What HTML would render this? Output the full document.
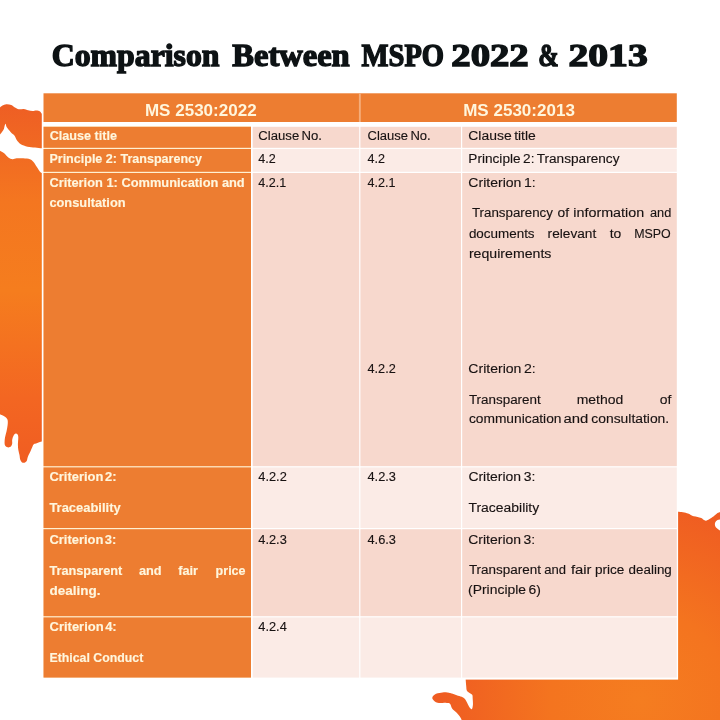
<!DOCTYPE html>
<html lang="en"><head><meta charset="utf-8"><title>Comparison Between MSPO 2022 &amp; 2013</title>
<style>
html,body{margin:0;padding:0;background:#fff;width:720px;height:720px;overflow:hidden}
svg{display:block}
.ti{font-family:"Liberation Serif",serif;font-weight:bold;font-size:32.2px;fill:#0D1214;stroke:#0D1214;stroke-width:1.4px}
.hd{font-family:"Liberation Sans",sans-serif;font-weight:bold;font-size:16.3px;fill:#FFF6DD}
.b{font-family:"Liberation Sans",sans-serif;font-weight:bold;font-size:12.3px;fill:#FFF6DD;stroke:#FFF6DD;stroke-width:0.15px}
.tight{word-spacing:-2px}
.n{font-family:"Liberation Sans",sans-serif;font-size:12.3px;fill:#181212;stroke:#181212;stroke-width:0.12px;word-spacing:-1.2px}
</style></head>
<body>
<svg width="720" height="720" viewBox="0 0 720 720">
<defs>
<linearGradient id="gl" gradientUnits="userSpaceOnUse" x1="0" y1="104" x2="0" y2="463">
<stop offset="0" stop-color="#EE5E24"/>
<stop offset="0.27" stop-color="#F47620"/>
<stop offset="0.52" stop-color="#F57D1E"/>
<stop offset="0.82" stop-color="#F36622"/>
<stop offset="1" stop-color="#F05D22"/>
</linearGradient>
<radialGradient id="gr" gradientUnits="userSpaceOnUse" cx="640" cy="700" r="200">
<stop offset="0" stop-color="#F57D20"/>
<stop offset="0.45" stop-color="#F4741F"/>
<stop offset="1" stop-color="#EF5C22"/>
</radialGradient>
</defs>
<rect width="720" height="720" fill="#fff"/>
<path d="M0,107.4 C0.42,107.08 1.46,106.03 2.50,105.50 C3.54,104.97 4.79,104.35 6.25,104.25 C7.71,104.15 9.79,104.38 11.25,104.90 C12.71,105.43 13.75,106.68 15.00,107.40 C16.25,108.12 17.29,109.00 18.75,109.25 C20.21,109.50 22.19,108.74 23.75,108.90 C25.31,109.06 26.64,109.83 28.10,110.20 C29.56,110.57 31.14,111.05 32.50,111.10 C33.86,111.15 35.00,110.45 36.25,110.50 C37.50,110.55 39.11,110.88 40.00,111.40 C40.89,111.92 41.33,113.23 41.60,113.60 L60,113.6 L60,148.3 L41.7,148.3 C40.58,148.17 37.37,147.77 35.00,147.50 C32.63,147.23 29.87,147.25 27.50,146.70 C25.13,146.15 22.37,145.02 20.80,144.20 C19.23,143.38 18.78,142.45 18.10,141.75 C17.42,141.05 17.32,141.04 16.70,140.00 C16.08,138.96 15.23,136.62 14.40,135.50 C13.57,134.38 12.53,134.13 11.70,133.30 C10.87,132.47 10.25,131.55 9.40,130.50 C8.55,129.45 7.23,128.12 6.60,127.00 C5.97,125.88 5.93,123.97 5.60,123.80 C5.27,123.63 4.91,125.09 4.60,126.00 C4.29,126.91 4.31,128.08 3.75,129.25 C3.19,130.42 1.88,132.12 1.25,133.00 C0.62,133.88 0.21,134.25 0.00,134.50 Z" fill="url(#gl)"/>
<path d="M0,150.8 C0.70,151.22 2.82,152.18 4.20,153.30 C5.58,154.42 6.92,156.52 8.30,157.50 C9.68,158.48 11.10,159.07 12.50,159.20 C13.90,159.33 14.90,158.45 16.70,158.30 C18.50,158.15 21.08,158.15 23.30,158.30 C25.52,158.45 28.33,158.63 30.00,159.20 C31.67,159.77 32.18,160.45 33.30,161.70 C34.42,162.95 35.58,165.03 36.70,166.70 C37.82,168.37 39.17,170.67 40.00,171.70 C40.83,172.73 41.42,172.70 41.70,172.90 L60,172.9 L60,441.5 L41.7,441.5 C41.42,441.60 40.97,441.75 40.00,442.10 C39.03,442.45 36.97,443.22 35.90,443.60 C34.83,443.98 34.23,443.77 33.60,444.40 C32.97,445.03 32.62,446.27 32.10,447.40 C31.58,448.53 31.08,449.93 30.50,451.20 C29.92,452.47 29.10,453.85 28.60,455.00 C28.10,456.15 27.82,457.08 27.50,458.10 C27.18,459.12 27.22,460.33 26.70,461.10 C26.18,461.87 25.22,462.50 24.40,462.70 C23.58,462.90 22.50,462.82 21.80,462.30 C21.10,461.78 20.58,460.82 20.20,459.60 C19.82,458.38 19.82,456.65 19.50,455.00 C19.18,453.35 18.57,451.47 18.30,449.70 C18.03,447.93 17.90,446.43 17.90,444.40 C17.90,442.37 18.35,439.17 18.30,437.50 C18.25,435.83 18.10,435.03 17.60,434.40 C17.10,433.77 16.00,433.43 15.30,433.70 C14.60,433.97 13.92,434.98 13.40,436.00 C12.88,437.02 12.40,438.53 12.20,439.80 C12.00,441.07 12.38,442.52 12.20,443.60 C12.02,444.68 11.73,445.67 11.10,446.30 C10.47,446.93 9.30,447.40 8.40,447.40 C7.50,447.40 6.33,446.93 5.70,446.30 C5.07,445.67 4.72,445.07 4.60,443.60 C4.48,442.13 4.68,439.53 5.00,437.50 C5.32,435.47 6.07,433.43 6.50,431.40 C6.93,429.37 7.42,427.22 7.60,425.30 C7.78,423.38 7.98,421.30 7.60,419.90 C7.22,418.50 6.18,417.67 5.30,416.90 C4.42,416.13 3.18,415.75 2.30,415.30 C1.42,414.85 0.38,414.38 0.00,414.20 Z" fill="url(#gl)"/>
<path d="M465.7,676 L676,676 L676,511.8 L678,511.8 C678.83,511.88 681.33,512.02 683.00,512.30 C684.67,512.58 686.83,513.15 688.00,513.50 C689.17,513.85 689.04,513.94 690.00,514.40 C690.96,514.86 692.50,515.83 693.75,516.25 C695.00,516.67 696.25,516.59 697.50,516.90 C698.75,517.21 700.00,517.48 701.25,518.10 C702.50,518.72 703.75,520.38 705.00,520.60 C706.25,520.82 707.29,520.12 708.75,519.40 C710.21,518.67 712.29,517.30 713.75,516.25 C715.21,515.20 716.46,513.83 717.50,513.10 C718.54,512.38 719.58,512.10 720.00,511.90 L720,519.4 C719.58,519.50 718.30,519.48 717.50,520.00 C716.70,520.52 715.62,521.57 715.20,522.50 C714.78,523.43 714.87,524.77 715.00,525.60 C715.13,526.43 715.58,526.98 716.00,527.50 C716.42,528.02 716.83,528.23 717.50,528.75 C718.17,529.27 719.58,530.29 720.00,530.60 L720,720 L461.7,720 C461.42,719.47 460.83,718.02 460.00,716.80 C459.17,715.58 457.78,713.83 456.70,712.70 C455.62,711.57 454.33,710.83 453.50,710.00 C452.67,709.17 452.28,708.73 451.70,707.70 C451.12,706.67 450.78,704.58 450.00,703.80 C449.22,703.02 447.97,703.18 447.00,703.00 C446.03,702.82 445.28,702.70 444.20,702.70 C443.12,702.70 441.62,703.00 440.50,703.00 C439.38,703.00 438.50,703.00 437.50,702.70 C436.50,702.40 435.37,701.93 434.50,701.20 C433.63,700.47 432.50,699.20 432.30,698.30 C432.10,697.40 432.68,696.55 433.30,695.80 C433.92,695.05 434.97,694.27 436.00,693.80 C437.03,693.33 438.42,693.22 439.50,693.00 C440.58,692.78 441.45,692.62 442.50,692.50 C443.55,692.38 444.72,692.22 445.80,692.25 C446.88,692.28 448.02,692.49 449.00,692.70 C449.98,692.91 450.42,693.08 451.70,693.50 C452.98,693.92 455.03,694.65 456.70,695.20 C458.37,695.75 460.32,696.17 461.70,696.80 C463.08,697.43 464.12,698.05 465.00,699.00 C465.88,699.95 466.33,701.25 467.00,702.50 C467.67,703.75 468.22,705.37 469.00,706.50 C469.78,707.63 471.05,709.55 471.70,709.30 C472.35,709.05 472.73,706.72 472.90,705.00 C473.07,703.28 472.82,700.70 472.70,699.00 C472.58,697.30 472.78,695.85 472.20,694.80 C471.62,693.75 470.10,693.42 469.20,692.70 C468.30,691.98 467.30,691.62 466.80,690.50 C466.30,689.38 466.38,687.75 466.20,686.00 C466.02,684.25 465.78,681.00 465.70,680.00 Z" fill="url(#gr)"/>
<rect x="41.8" y="92" width="636.3" height="587.6" fill="#fff"/>
<rect x="43.5" y="126" width="207.5" height="551.6" fill="#FFF0D2"/>
<rect x="43.5" y="93.3" width="633.30" height="28.70" fill="#ED7D31"/>
<rect x="43.5" y="126.8" width="207.50" height="21.00" fill="#ED7D31"/>
<rect x="43.5" y="149.0" width="207.50" height="22.80" fill="#ED7D31"/>
<rect x="43.5" y="173.0" width="207.50" height="293.20" fill="#ED7D31"/>
<rect x="43.5" y="467.4" width="207.50" height="60.60" fill="#ED7D31"/>
<rect x="43.5" y="529.2" width="207.50" height="87.00" fill="#ED7D31"/>
<rect x="43.5" y="617.4" width="207.50" height="60.20" fill="#ED7D31"/>
<rect x="252.7" y="126.8" width="106.50" height="21.00" fill="#F7D8CD"/>
<rect x="360.4" y="126.8" width="100.60" height="21.00" fill="#F7D8CD"/>
<rect x="462.2" y="126.8" width="214.60" height="21.00" fill="#F7D8CD"/>
<rect x="252.7" y="149.0" width="106.50" height="22.80" fill="#FBEBE6"/>
<rect x="360.4" y="149.0" width="100.60" height="22.80" fill="#FBEBE6"/>
<rect x="462.2" y="149.0" width="214.60" height="22.80" fill="#FBEBE6"/>
<rect x="252.7" y="173.0" width="106.50" height="293.20" fill="#F7D8CD"/>
<rect x="360.4" y="173.0" width="100.60" height="293.20" fill="#F7D8CD"/>
<rect x="462.2" y="173.0" width="214.60" height="293.20" fill="#F7D8CD"/>
<rect x="252.7" y="467.4" width="106.50" height="60.60" fill="#FBEBE6"/>
<rect x="360.4" y="467.4" width="100.60" height="60.60" fill="#FBEBE6"/>
<rect x="462.2" y="467.4" width="214.60" height="60.60" fill="#FBEBE6"/>
<rect x="252.7" y="529.2" width="106.50" height="87.00" fill="#F7D8CD"/>
<rect x="360.4" y="529.2" width="100.60" height="87.00" fill="#F7D8CD"/>
<rect x="462.2" y="529.2" width="214.60" height="87.00" fill="#F7D8CD"/>
<rect x="252.7" y="617.4" width="106.50" height="60.20" fill="#FBEBE6"/>
<rect x="360.4" y="617.4" width="100.60" height="60.20" fill="#FBEBE6"/>
<rect x="462.2" y="617.4" width="214.60" height="60.20" fill="#FBEBE6"/>
<rect x="358.9" y="93.3" width="1.9" height="28.7" fill="#F5AD7A"/>
<text class="ti" x="51.8" y="66.0" textLength="167.7" lengthAdjust="spacingAndGlyphs">Comparison</text>
<text class="ti" x="232.3" y="66.0" textLength="117.4" lengthAdjust="spacingAndGlyphs">Between</text>
<text class="ti" x="361.55" y="66.0" textLength="82.5" lengthAdjust="spacingAndGlyphs">MSPO</text>
<text class="ti" x="451.3" y="66.0" textLength="77.4" lengthAdjust="spacingAndGlyphs">2022</text>
<text class="ti" x="538.3" y="66.0" textLength="20.4" lengthAdjust="spacingAndGlyphs">&amp;</text>
<text class="ti" x="568.5" y="66.0" textLength="79.2" lengthAdjust="spacingAndGlyphs">2013</text>
<text class="hd" x="144.9" y="115.5" textLength="111.8" lengthAdjust="spacingAndGlyphs">MS 2530:2022</text>
<text class="hd" x="463.2" y="115.5" textLength="111.7" lengthAdjust="spacingAndGlyphs">MS 2530:2013</text>
<text class="b" x="49.7" y="140.0" textLength="67.3" lengthAdjust="spacingAndGlyphs">Clause title</text>
<text class="n" x="258.3" y="140.0" textLength="63.7" lengthAdjust="spacingAndGlyphs">Clause No.</text>
<text class="n" x="367.5" y="140.0" textLength="63.2" lengthAdjust="spacingAndGlyphs">Clause No.</text>
<text class="n" x="468.3" y="140.0" textLength="67.5" lengthAdjust="spacingAndGlyphs">Clause title</text>
<text class="b" x="49.4" y="163.2" textLength="152.6" lengthAdjust="spacingAndGlyphs">Principle 2: Transparency</text>
<text class="n" x="258.3" y="163.2" textLength="17.5" lengthAdjust="spacingAndGlyphs">4.2</text>
<text class="n" x="367.5" y="163.2" textLength="17.5" lengthAdjust="spacingAndGlyphs">4.2</text>
<text class="n" x="468.3" y="163.2" textLength="151.2" lengthAdjust="spacingAndGlyphs">Principle 2: Transparency</text>
<text class="b" x="49.4" y="186.9" textLength="195.3" lengthAdjust="spacingAndGlyphs">Criterion 1: Communication and</text>
<text class="b" x="49.4" y="206.7" textLength="76.2" lengthAdjust="spacingAndGlyphs">consultation</text>
<text class="n" x="258.3" y="186.9" textLength="28.0" lengthAdjust="spacingAndGlyphs">4.2.1</text>
<text class="n" x="367.5" y="186.9" textLength="28.0" lengthAdjust="spacingAndGlyphs">4.2.1</text>
<text class="n" x="367.5" y="372.6" textLength="28.3" lengthAdjust="spacingAndGlyphs">4.2.2</text>
<text class="n" x="468.3" y="187.0" textLength="67.4" lengthAdjust="spacingAndGlyphs">Criterion 1:</text>
<text class="n" x="471.9" y="217.4" textLength="81.0" lengthAdjust="spacingAndGlyphs">Transparency</text>
<text class="n" x="557.5" y="217.4" textLength="11.5" lengthAdjust="spacingAndGlyphs">of</text>
<text class="n" x="573.3" y="217.4" textLength="70.9" lengthAdjust="spacingAndGlyphs">information</text>
<text class="n" x="650.0" y="217.4" textLength="21.3" lengthAdjust="spacingAndGlyphs">and</text>
<text class="n" x="468.9" y="237.5" textLength="65.7" lengthAdjust="spacingAndGlyphs">documents</text>
<text class="n" x="547.6" y="237.5" textLength="48.7" lengthAdjust="spacingAndGlyphs">relevant</text>
<text class="n" x="609.7" y="237.5" textLength="11.6" lengthAdjust="spacingAndGlyphs">to</text>
<text class="n" x="634.2" y="237.5" textLength="36.6" lengthAdjust="spacingAndGlyphs">MSPO</text>
<text class="n" x="468.9" y="257.6" textLength="82.5" lengthAdjust="spacingAndGlyphs">requirements</text>
<text class="n" x="468.3" y="372.7" textLength="67.4" lengthAdjust="spacingAndGlyphs">Criterion 2:</text>
<text class="n" x="468.9" y="403.7" textLength="71.8" lengthAdjust="spacingAndGlyphs">Transparent</text>
<text class="n" x="576.7" y="403.7" textLength="46.6" lengthAdjust="spacingAndGlyphs">method</text>
<text class="n" x="659.7" y="403.7" textLength="11.6" lengthAdjust="spacingAndGlyphs">of</text>
<text class="n" x="468.9" y="423.4" textLength="92.6" lengthAdjust="spacingAndGlyphs">communication</text>
<text class="n" x="563.5" y="423.4" textLength="24.8" lengthAdjust="spacingAndGlyphs">and</text>
<text class="n" x="591.3" y="423.4" textLength="77.9" lengthAdjust="spacingAndGlyphs">consultation.</text>
<text class="b tight" x="49.4" y="480.9" textLength="67.1" lengthAdjust="spacingAndGlyphs">Criterion 2:</text>
<text class="b" x="49.4" y="511.7" textLength="71.3" lengthAdjust="spacingAndGlyphs">Traceability</text>
<text class="n" x="258.3" y="480.9" textLength="28.5" lengthAdjust="spacingAndGlyphs">4.2.2</text>
<text class="n" x="367.5" y="480.9" textLength="28.5" lengthAdjust="spacingAndGlyphs">4.2.3</text>
<text class="n" x="468.4" y="480.9" textLength="66.9" lengthAdjust="spacingAndGlyphs">Criterion 3:</text>
<text class="n" x="468.4" y="511.5" textLength="70.8" lengthAdjust="spacingAndGlyphs">Traceability</text>
<text class="b tight" x="49.4" y="543.8" textLength="67.0" lengthAdjust="spacingAndGlyphs">Criterion 3:</text>
<text class="b" x="49.4" y="574.8" textLength="72.9" lengthAdjust="spacingAndGlyphs">Transparent</text>
<text class="b" x="138.9" y="574.8" textLength="22.7" lengthAdjust="spacingAndGlyphs">and</text>
<text class="b" x="178.2" y="574.8" textLength="19.8" lengthAdjust="spacingAndGlyphs">fair</text>
<text class="b" x="215.6" y="574.8" textLength="30.0" lengthAdjust="spacingAndGlyphs">price</text>
<text class="b" x="49.4" y="594.7" textLength="51.0" lengthAdjust="spacingAndGlyphs">dealing.</text>
<text class="n" x="258.3" y="543.8" textLength="28.5" lengthAdjust="spacingAndGlyphs">4.2.3</text>
<text class="n" x="367.5" y="543.8" textLength="28.5" lengthAdjust="spacingAndGlyphs">4.6.3</text>
<text class="n" x="468.3" y="543.8" textLength="66.9" lengthAdjust="spacingAndGlyphs">Criterion 3:</text>
<text class="n" x="468.9" y="574.4" textLength="72.0" lengthAdjust="spacingAndGlyphs">Transparent</text>
<text class="n" x="544.3" y="574.4" textLength="21.8" lengthAdjust="spacingAndGlyphs">and</text>
<text class="n" x="570.9" y="574.4" textLength="20.6" lengthAdjust="spacingAndGlyphs">fair</text>
<text class="n" x="595.0" y="574.4" textLength="29.4" lengthAdjust="spacingAndGlyphs">price</text>
<text class="n" x="628.6" y="574.4" textLength="43.2" lengthAdjust="spacingAndGlyphs">dealing</text>
<text class="n" x="468.1" y="594.4" textLength="72.8" lengthAdjust="spacingAndGlyphs">(Principle 6)</text>
<text class="b tight" x="49.5" y="630.9" textLength="67.2" lengthAdjust="spacingAndGlyphs">Criterion 4:</text>
<text class="b" x="49.5" y="661.7" textLength="93.8" lengthAdjust="spacingAndGlyphs">Ethical Conduct</text>
<text class="n" x="258.3" y="630.9" textLength="28.5" lengthAdjust="spacingAndGlyphs">4.2.4</text>
</svg>
</body></html>
